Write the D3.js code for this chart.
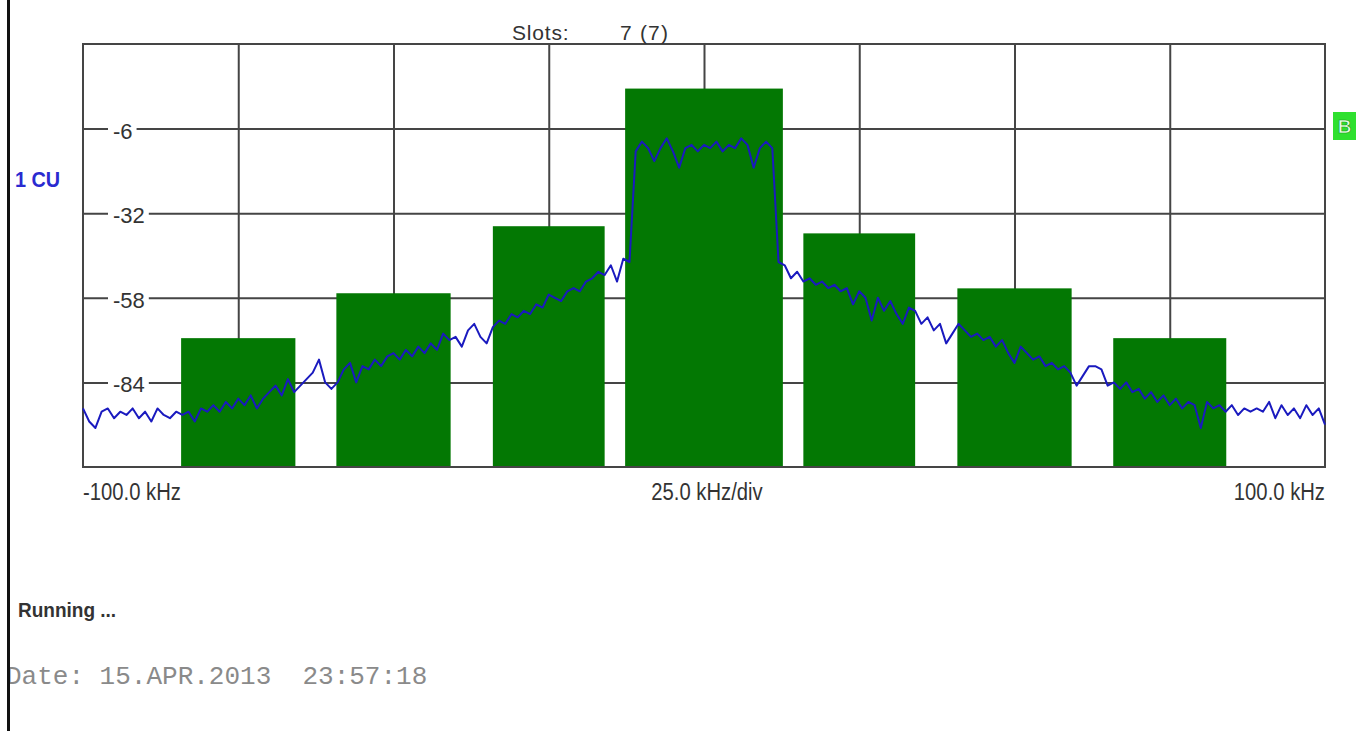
<!DOCTYPE html>
<html>
<head>
<meta charset="utf-8">
<script src="https://cdn.jsdelivr.net/npm/d3@7"></script>
<style>
  html, body { margin: 0; padding: 0; background: #fff; }
  svg { display: block; }
  text { font-family: "Liberation Sans", Arial, sans-serif; }
  text.mono { font-family: "Liberation Mono", "DejaVu Sans Mono", monospace; white-space: pre; }
</style>
</head>
<body>
<script>
// ACP measurement: channel power bars (7 slots) and the spectrum trace
const channelCenters = [-75, -50, -25, 0, 25, 50, 75];          // kHz
const channelWidths  = [18.4, 18.4, 18, 25.4, 18, 18.4, 18.2];   // kHz
const channelPower   = [-70.4, -56.6, -36.0, 6.3, -38.2, -55.1, -70.4];

// spectrum sweep: one point per kHz from -100 kHz to +100 kHz
const traceStart = -100;
const traceStep = 1;
const traceLevels = [
  -92,-96,-98,-93,-92,-95,-93,-94,-92,-95,-93,-96,-92,-94,-95,-93,-94,
  -93,-96,-92,-93,-91,-93,-90,-92,-89,-91,-88,-92,-89,-87,-85,-88,-83,-87,
  -85,-83,-81,-77,-84,-86,-84,
  -80,-78,-84,-79,-80,-77,-79,-76,-75,-77,-74,-76,-73,-75,-72,-74,-69,-71,
  -70,-73,-68,-66,-70,-72,
  -67,-65,-66,-63,-64,-62,-63,-60,-61,-57,-58,-59,-56,-55,-56,-53,-52,-50,-51,
  -48,-53,-46,
  -47,-13,
  -10,-12,-16,-12,-9,-13,-18,-12,-11,-13,-11,-12,-10,-13,-11,-12,-9,-11,-18,-12,-10,-12,-47,
  -48,-52,-50,-53,-52,-54,-53,-55,-54,-56,-55,-60,-56,-58,-65,-58,-62,-59,-63,-66,-61,
  -62,-66,-64,-68,-66,-72,-69,
  -66,-68,-70,-69,-71,-70,-73,-71,-75,-78,-73,-75,-77,-76,-79,-78,-80,-79,
  -81,-85,-82,-79,-79,-80,-85,-84,
  -86,-84,-87,-86,-89,-87,-90,-88,-91,-89,-92,-90,-91,-98,-90,-92,-91,-93,-91,-94,-92,-93,-92,
  -93,-90,-95,-91,-94,-92,-95,-91,-94,-92,-97
];

const xTicks = [-75, -50, -25, 0, 25, 50, 75];
const yTicks = [-84, -58, -32, -6];
const xDomain = [-100, 100];
const yDomain = [-110, 20];
const xLabels = ["-100.0 kHz", "25.0 kHz/div", "100.0 kHz"];

const W = 1369, H = 731;
const plot = { left: 83, right: 1325, top: 44, bottom: 467 };

const svg = d3.select("body").append("svg")
  .attr("width", W).attr("height", H);

const x = d3.scaleLinear().domain(xDomain).range([plot.left, plot.right]);
const y = d3.scaleLinear().domain(yDomain).range([plot.bottom, plot.top]);

const gridColor = "#454545";

// grid
const gx = svg.append("g")
  .attr("transform", `translate(0,${plot.bottom})`)
  .call(d3.axisBottom(x).tickValues(xTicks).tickSize(-(plot.bottom - plot.top)).tickFormat(""));
const gy = svg.append("g")
  .attr("transform", `translate(${plot.left},0)`)
  .call(d3.axisLeft(y).tickValues(yTicks).tickSize(-(plot.right - plot.left)).tickFormat(""));
[gx, gy].forEach(g => {
  g.select(".domain").remove();
  g.selectAll(".tick line").attr("stroke", gridColor).attr("stroke-width", 2);
});

// y tick labels sitting on the grid lines
const yl = svg.append("g");
yTicks.forEach(v => {
  const t = yl.append("text")
    .attr("x", plot.left + 30)
    .attr("y", y(v) + 10)
    .attr("font-size", 22)
    .attr("fill", "#333")
    .text(v);
  const b = t.node().getBBox();
  yl.insert("rect", "text")
    .attr("x", b.x - 5).attr("y", y(v) - 3)
    .attr("width", b.width + 9).attr("height", 6)
    .attr("fill", "#fff");
});

// channel power bars
svg.append("g").selectAll("rect")
  .data(channelCenters)
  .join("rect")
  .attr("x", (c, i) => x(c - channelWidths[i] / 2))
  .attr("width", (c, i) => x(c + channelWidths[i] / 2) - x(c - channelWidths[i] / 2))
  .attr("y", (c, i) => y(channelPower[i]))
  .attr("height", (c, i) => y(yDomain[0]) - y(channelPower[i]))
  .attr("fill", "#037803");

// plot frame
svg.append("rect")
  .attr("x", plot.left).attr("y", plot.top)
  .attr("width", plot.right - plot.left).attr("height", plot.bottom - plot.top)
  .attr("fill", "none").attr("stroke", gridColor).attr("stroke-width", 2);

// spectrum trace
const line = d3.line()
  .x((d, i) => x(traceStart + i * traceStep))
  .y(d => y(d));
svg.append("path")
  .datum(traceLevels)
  .attr("d", line)
  .attr("fill", "none")
  .attr("stroke", "#1a1abf")
  .attr("stroke-width", 2)
  .attr("stroke-linejoin", "round");

// horizontally condensed text, like the instrument font
function condense(sel, k) {
  sel.each(function () {
    const w = this.getComputedTextLength();
    d3.select(this).attr("textLength", w * k).attr("lengthAdjust", "spacingAndGlyphs");
  });
}

// frequency labels
const xl = svg.append("g").attr("font-size", 23).attr("fill", "#333");
xl.append("text").attr("x", plot.left).attr("y", 500).attr("text-anchor", "start").text(xLabels[0]).call(condense, 0.88);
xl.append("text").attr("x", x(0) + 3).attr("y", 500).attr("text-anchor", "middle").text(xLabels[1]).call(condense, 0.88);
xl.append("text").attr("x", plot.right).attr("y", 500).attr("text-anchor", "end").text(xLabels[2]).call(condense, 0.88);

// header
svg.append("text").attr("x", 512).attr("y", 40).attr("font-size", 21).attr("fill", "#333")
  .attr("letter-spacing", 0.8).text("Slots:");
svg.append("text").attr("x", 620).attr("y", 40).attr("font-size", 21).attr("fill", "#333")
  .attr("letter-spacing", 1.2).text("7 (7)");

// trace unit label
svg.append("text").attr("x", 15).attr("y", 187).attr("font-size", 22).attr("font-weight", "bold")
  .attr("fill", "#2a2ad0").text("1 CU").call(condense, 0.9);

// trace marker
svg.append("rect").attr("x", 1333).attr("y", 112).attr("width", 23).attr("height", 28)
  .attr("fill", "#2fe02f");
svg.append("text").attr("x", 1344.5).attr("y", 133).attr("text-anchor", "middle")
  .attr("font-size", 19).attr("font-weight", "bold").attr("fill", "#e4ffe4")
  .attr("stroke", "#1a9a1a").attr("stroke-width", 0.7).text("B");

// status lines
svg.append("text").attr("x", 18).attr("y", 617).attr("font-size", 20).attr("font-weight", "bold")
  .attr("fill", "#333").text("Running ...").call(condense, 0.95);
svg.append("text").attr("class", "mono").attr("x", 6).attr("y", 684)
  .attr("font-size", 26).attr("fill", "#8a8a8a")
  .text("Date: 15.APR.2013  23:57:18");

// window edge
svg.append("rect").attr("x", 7).attr("y", 0).attr("width", 3).attr("height", H).attr("fill", "#111");
</script>
</body>
</html>
